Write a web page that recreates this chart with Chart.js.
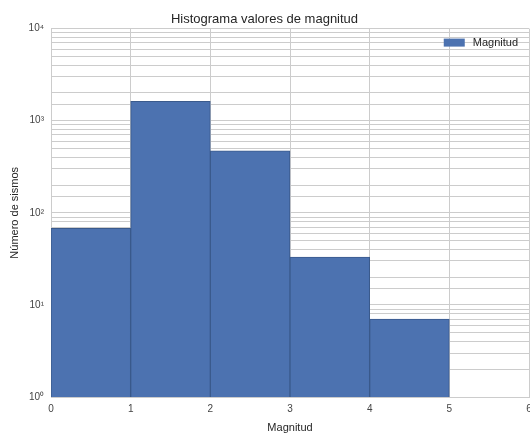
<!DOCTYPE html>
<html>
<head>
<meta charset="utf-8">
<script src="https://cdn.jsdelivr.net/npm/chart.js@4"></script>
<style>
  html, body { margin: 0; padding: 0; background: #fff; }
  #wrap { width: 530px; height: 435px; }
</style>
</head>
<body>
<div id="wrap"><canvas id="grafico"></canvas></div>
<script>
const binStarts = [0, 1, 2, 3, 4];
const counts = [68, 1620, 470, 33, 7];
const xTicks = [0, 1, 2, 3, 4, 5, 6];
const supers = { 0: '⁰', 1: '¹', 2: '²', 3: '³', 4: '⁴' };

const ctx = document.getElementById('grafico').getContext('2d');
const fontFam = '"Liberation Sans", Arial, sans-serif';

// legenda dentro da área do gráfico, canto superior direito
const legendaInterna = {
  id: 'legendaInterna',
  afterDraw(chart) {
    const { ctx, chartArea } = chart;
    const ds = chart.data.datasets[0];
    ctx.save();
    ctx.font = '11px ' + fontFam;
    const tw = ctx.measureText(ds.label).width;
    const xText = chartArea.right - 11 - tw;
    const yMid = chartArea.top + 14;
    ctx.fillStyle = ds.backgroundColor;
    ctx.fillRect(xText - 29, yMid - 4, 21, 8);
    ctx.fillStyle = '#262626';
    ctx.textBaseline = 'middle';
    ctx.fillText(ds.label, xText, yMid);
    ctx.restore();
  }
};

new Chart(ctx, {
  type: 'bar',
  data: {
    datasets: [{
      label: 'Magnitud',
      data: binStarts.map((s, i) => ({ x: s + 0.5, y: counts[i] })),
      backgroundColor: '#4c72b0',
      borderColor: '#3a5a8c',
      borderWidth: 1,
      barPercentage: 1,
      categoryPercentage: 1
    }]
  },
  options: {
    responsive: true,
    maintainAspectRatio: false,
    animation: false,
    layout: { padding: { left: 0, right: 1, top: 0, bottom: 0 } },
    plugins: {
      title: {
        display: true,
        text: 'Histograma valores de magnitud',
        color: '#262626',
        font: { family: fontFam, size: 13, weight: 'normal' },
        padding: { top: 12, bottom: 1 }
      },
      legend: { display: false },
      tooltip: { enabled: false }
    },
    scales: {
      x: {
        type: 'linear',
        min: 0,
        max: 6,
        offset: false,
        afterBuildTicks: scale => { scale.ticks = xTicks.map(v => ({ value: v })); },
        afterFit: scale => { scale.height = 38; scale.paddingLeft = 0; scale.paddingRight = 0; },
        grid: { color: '#cccccc', drawTicks: false, offset: false },
        border: { color: '#cccccc' },
        ticks: { color: '#444', font: { family: fontFam, size: 10 }, padding: 6, maxRotation: 0 },
        title: {
          display: true, text: 'Magnitud', color: '#262626',
          font: { family: fontFam, size: 11 }, padding: { top: 4, bottom: 0 }
        }
      },
      y: {
        type: 'logarithmic',
        min: 1,
        max: 10000,
        afterFit: scale => { scale.width = 51; scale.paddingTop = 0; scale.paddingBottom = 0; },
        grid: { color: '#cccccc', drawTicks: false },
        border: { color: '#cccccc' },
        ticks: {
          color: '#444',
          font: { family: fontFam, size: 10 },
          padding: 7,
          autoSkip: false,
          callback: v => {
            const e = Math.log10(v);
            return Number.isInteger(e) ? '10' + supers[e] : '';
          }
        },
        title: {
          display: true, text: 'Número de sismos', color: '#262626',
          font: { family: fontFam, size: 11 }, padding: { top: 8, bottom: 0 }
        }
      }
    }
  },
  plugins: [legendaInterna]
});
</script>
</body>
</html>
